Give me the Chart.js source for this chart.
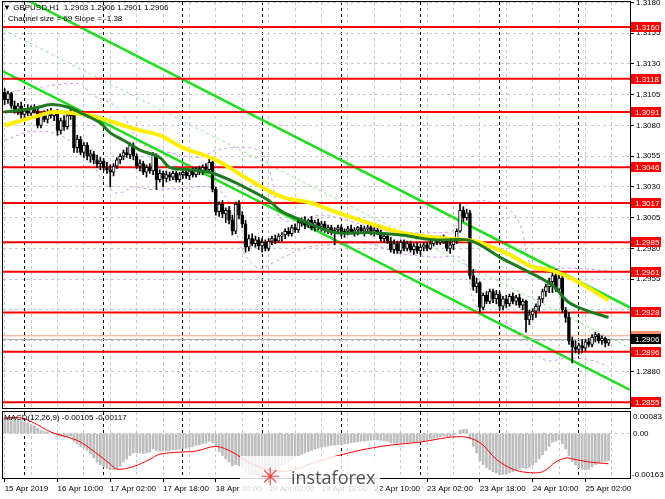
<!DOCTYPE html>
<html>
<head>
<meta charset="utf-8">
<script src="https://cdn.jsdelivr.net/npm/chart.js@4.4.1/dist/chart.umd.min.js"></script>
<style>
  body { margin: 0; background: #fff; }
  #wrap { position: relative; width: 665px; height: 499px; overflow: hidden; font-family: "Liberation Sans", Arial, sans-serif; }
  canvas { position: absolute; left: 0; }
  .txt { position: absolute; font-size: 8px; line-height: 10px; color: #000; white-space: pre; }
  #logo { position: absolute; left: 240px; top: 456px; width: 140px; height: 43px; background: rgba(255,255,255,0.82); }
  #logo .ic { position: absolute; left: 20px; top: 8px; color: #e8473c; font-family: "DejaVu Sans"; font-size: 24px; line-height: 26px; }
  #logo .tx { position: absolute; left: 51px; top: 9px; color: #505050; font-family: "Open Sans", sans-serif; font-size: 18px; line-height: 24px; }
</style>
</head>
<body>
<div id="wrap">
  <canvas id="main" width="665" height="410" style="top:0"></canvas>
  <canvas id="macd" width="665" height="99" style="top:400px"></canvas>
  <div class="txt" id="hdr1" style="left:3px;top:3px"></div>
  <div class="txt" style="left:8px;top:14px">Channel size = 69 Slope = -1.38</div>
  <div class="txt" id="hdr2" style="left:4px;top:413px"></div>
  <div id="logo"><span class="ic">&#10035;</span><span class="tx">instaforex</span></div>
</div>
<script>
// GBPUSD H1, one candle per hour, 15 Apr 18:00 .. 25 Apr 09:00
var opens = [
  1.3107,1.3101,1.3106,1.3096,1.3093,1.3096,1.3089,1.3092,1.3090,1.3094,
  1.3092,1.3080,1.3088,1.3085,1.3091,1.3088,1.3090,1.3076,1.3084,1.3079,
  1.3088,1.3092,1.3062,1.3069,1.3058,1.3064,1.3055,1.3057,1.3052,1.3049,
  1.3051,1.3046,1.3044,1.3042,1.3047,1.3052,1.3055,1.3058,1.3056,1.3064,
  1.3055,1.3047,1.3049,1.3042,1.3046,1.3043,1.3056,1.3036,1.3041,1.3037,
  1.3040,1.3038,1.3041,1.3036,1.3040,1.3042,1.3039,1.3043,1.3040,1.3045,
  1.3042,1.3046,1.3044,1.3050,1.3028,1.3010,1.3016,1.3008,1.3011,1.3003,
  1.2994,1.3016,1.3007,1.3000,1.2981,1.2988,1.2984,1.2987,1.2982,1.2985,
  1.2980,1.2986,1.2988,1.2986,1.2990,1.2991,1.2994,1.2992,1.2997,1.2995,
  1.3001,1.3002,1.2999,1.3003,1.2997,1.3001,1.2998,1.3000,1.2995,1.2997,
  1.2993,1.2995,1.2997,1.2992,1.2994,1.2996,1.2993,1.2995,1.2997,1.2994,
  1.2996,1.2997,1.2993,1.2995,1.2992,1.2988,1.2990,1.2986,1.2979,1.2984,
  1.2978,1.2985,1.2980,1.2984,1.2979,1.2982,1.2978,1.2981,1.2983,1.2980,
  1.2984,1.2987,1.2985,1.2988,1.2986,1.2980,1.2983,1.2986,1.2994,1.3011,
  1.3005,1.3009,1.2958,1.2949,1.2952,1.2932,1.2942,1.2937,1.2945,1.2939,
  1.2943,1.2933,1.2939,1.2935,1.2941,1.2937,1.2940,1.2934,1.2937,1.2922,
  1.2926,1.2929,1.2933,1.2939,1.2945,1.2949,1.2953,1.2958,1.2947,1.2956,
  1.2930,1.2924,1.2905,1.2900,1.2898,1.2901,1.2899,1.2904,1.2902,1.2908,
  1.2910,1.2905,1.2907,1.2903
];
var highs = [
  1.3110,1.3108,1.3107,1.3100,1.3098,1.3099,1.3094,1.3097,1.3096,1.3097,
  1.3094,1.3090,1.3092,1.3093,1.3094,1.3092,1.3093,1.3086,1.3088,1.3090,
  1.3094,1.3093,1.3072,1.3071,1.3066,1.3066,1.3060,1.3059,1.3056,1.3054,
  1.3053,1.3050,1.3048,1.3049,1.3054,1.3057,1.3060,1.3062,1.3066,1.3066,
  1.3057,1.3052,1.3051,1.3048,1.3049,1.3058,1.3057,1.3044,1.3043,1.3043,
  1.3042,1.3043,1.3043,1.3042,1.3044,1.3045,1.3044,1.3046,1.3046,1.3047,
  1.3048,1.3049,1.3053,1.3051,1.3030,1.3018,1.3019,1.3013,1.3014,1.3007,
  1.3018,1.3019,1.3010,1.3003,1.2991,1.2992,1.2990,1.2989,1.2988,1.2987,
  1.2988,1.2990,1.2991,1.2992,1.2993,1.2996,1.2997,1.2999,1.3000,1.3003,
  1.3005,1.3006,1.3004,1.3006,1.3003,1.3004,1.3002,1.3002,1.2999,1.2999,
  1.2997,1.2999,1.2999,1.2996,1.2998,1.2999,1.2997,1.2998,1.2999,1.2998,
  1.2999,1.2999,1.2997,1.2998,1.2995,1.2993,1.2992,1.2989,1.2987,1.2986,
  1.2987,1.2987,1.2986,1.2986,1.2984,1.2985,1.2983,1.2985,1.2985,1.2986,
  1.2989,1.2990,1.2990,1.2991,1.2989,1.2986,1.2988,1.2996,1.3017,1.3014,
  1.3012,1.3011,1.2963,1.2956,1.2953,1.2944,1.2945,1.2947,1.2947,1.2946,
  1.2945,1.2941,1.2942,1.2943,1.2944,1.2942,1.2943,1.2939,1.2938,1.2930,
  1.2931,1.2935,1.2941,1.2947,1.2951,1.2956,1.2962,1.2963,1.2959,1.2958,
  1.2932,1.2928,1.2908,1.2905,1.2903,1.2906,1.2906,1.2907,1.2910,1.2912,
  1.2911,1.2909,1.2908,1.2906
];
var lows = [
  1.3097,1.3098,1.3094,1.3090,1.3089,1.3086,1.3084,1.3088,1.3087,1.3090,
  1.3078,1.3078,1.3083,1.3082,1.3086,1.3084,1.3072,1.3073,1.3076,1.3077,
  1.3085,1.3058,1.3058,1.3056,1.3054,1.3052,1.3050,1.3049,1.3046,1.3044,
  1.3043,1.3041,1.3030,1.3039,1.3045,1.3049,1.3052,1.3054,1.3053,1.3052,
  1.3045,1.3043,1.3040,1.3038,1.3041,1.3040,1.3028,1.3034,1.3030,1.3034,
  1.3035,1.3036,1.3034,1.3034,1.3037,1.3037,1.3036,1.3038,1.3038,1.3040,
  1.3040,1.3043,1.3042,1.3026,1.3007,1.3006,1.3005,1.3001,1.3000,1.2991,
  1.2992,1.3004,1.2997,1.2977,1.2978,1.2982,1.2981,1.2979,1.2977,1.2978,
  1.2978,1.2983,1.2984,1.2985,1.2986,1.2988,1.2990,1.2990,1.2993,1.2993,
  1.2998,1.2996,1.2997,1.2995,1.2994,1.2995,1.2994,1.2993,1.2992,1.2991,
  1.2983,1.2992,1.2990,1.2989,1.2991,1.2992,1.2990,1.2991,1.2992,1.2990,
  1.2993,1.2991,1.2990,1.2991,1.2986,1.2985,1.2984,1.2977,1.2976,1.2976,
  1.2976,1.2978,1.2978,1.2977,1.2975,1.2976,1.2975,1.2978,1.2978,1.2979,
  1.2982,1.2983,1.2983,1.2984,1.2978,1.2976,1.2979,1.2984,1.2993,1.3002,
  1.3003,1.2955,1.2946,1.2944,1.2928,1.2930,1.2935,1.2935,1.2936,1.2935,
  1.2930,1.2930,1.2932,1.2933,1.2935,1.2934,1.2932,1.2930,1.2912,1.2918,
  1.2922,1.2924,1.2929,1.2936,1.2941,1.2944,1.2944,1.2945,1.2944,1.2928,
  1.2920,1.2902,1.2887,1.2895,1.2894,1.2895,1.2897,1.2900,1.2900,1.2904,
  1.2903,1.2902,1.2900,1.2901
];
var closes = [
  1.3101,1.3106,1.3096,1.3093,1.3096,1.3089,1.3092,1.3090,1.3094,1.3092,
  1.3080,1.3088,1.3085,1.3091,1.3088,1.3090,1.3076,1.3084,1.3079,1.3088,
  1.3092,1.3062,1.3069,1.3058,1.3064,1.3055,1.3057,1.3052,1.3049,1.3051,
  1.3046,1.3044,1.3042,1.3047,1.3052,1.3055,1.3058,1.3056,1.3064,1.3055,
  1.3047,1.3049,1.3042,1.3046,1.3043,1.3056,1.3036,1.3041,1.3037,1.3040,
  1.3038,1.3041,1.3036,1.3040,1.3042,1.3039,1.3043,1.3040,1.3045,1.3042,
  1.3046,1.3044,1.3050,1.3028,1.3010,1.3016,1.3008,1.3011,1.3003,1.2994,
  1.3016,1.3007,1.3000,1.2981,1.2988,1.2984,1.2987,1.2982,1.2985,1.2980,
  1.2986,1.2988,1.2986,1.2990,1.2991,1.2994,1.2992,1.2997,1.2995,1.3001,
  1.3002,1.2999,1.3003,1.2997,1.3001,1.2998,1.3000,1.2995,1.2997,1.2993,
  1.2995,1.2997,1.2992,1.2994,1.2996,1.2993,1.2995,1.2997,1.2994,1.2996,
  1.2997,1.2993,1.2995,1.2992,1.2988,1.2990,1.2986,1.2979,1.2984,1.2978,
  1.2985,1.2980,1.2984,1.2979,1.2982,1.2978,1.2981,1.2983,1.2980,1.2984,
  1.2987,1.2985,1.2988,1.2986,1.2980,1.2983,1.2986,1.2994,1.3011,1.3005,
  1.3009,1.2958,1.2949,1.2952,1.2932,1.2942,1.2937,1.2945,1.2939,1.2943,
  1.2933,1.2939,1.2935,1.2941,1.2937,1.2940,1.2934,1.2937,1.2922,1.2926,
  1.2929,1.2933,1.2939,1.2945,1.2949,1.2953,1.2958,1.2947,1.2956,1.2930,
  1.2924,1.2905,1.2900,1.2898,1.2901,1.2899,1.2904,1.2902,1.2908,1.2910,
  1.2905,1.2907,1.2903,1.2906
];

// price axis and drawn levels
var priceTicks = [1.2855, 1.2880, 1.2905, 1.2930, 1.2955, 1.2980, 1.3005, 1.3030, 1.3055, 1.3080, 1.3105, 1.3130, 1.3155, 1.3180];
var levels = [1.3160, 1.3118, 1.3091, 1.3046, 1.3017, 1.2985, 1.2961, 1.2928, 1.2896, 1.2855];
var bidPrice = 1.2906;
var askPrice = 1.2909;

// time axis (bar index)
var labelIdx = [0, 16, 32, 48, 64, 80, 96, 112, 128, 144, 160, 176];
var dateLabels = ['15 Apr 2019', '16 Apr 10:00', '17 Apr 02:00', '17 Apr 18:00', '18 Apr 10:00', '19 Apr 02:00',
                  '19 Apr 18:00', '22 Apr 10:00', '23 Apr 02:00', '23 Apr 18:00', '24 Apr 10:00', '25 Apr 02:00'];
var daySep = [6, 30, 54, 78, 102, 126, 150, 174];
var gridIdx = [0, 8, 16, 24, 32, 40, 48, 56, 64, 72, 80, 88, 96, 104, 112, 120, 128, 136, 144, 152, 160, 168, 176, 184];

// moving averages at these bars
var maSlowIdx = [0, 9, 15, 24, 29, 36, 41, 47, 54, 64, 74, 84, 93, 99, 110, 120, 130, 140, 144, 153, 160, 166, 173, 183];
var maSlow = [1.3080, 1.3087, 1.3091, 1.3089, 1.3086, 1.3080, 1.3076, 1.3072, 1.3062, 1.3052, 1.3036, 1.3022,
              1.3017, 1.3011, 1.3001, 1.2993, 1.2989, 1.2987, 1.2985, 1.2975, 1.2965, 1.2962, 1.2954, 1.2938];
var maFastIdx = [0, 9, 14, 19, 24, 29, 32, 36, 41, 47, 50, 56, 62, 68, 74, 80, 84, 90, 100, 110, 120, 130, 140, 144,
                 150, 158, 166, 171, 178, 183];
var maFast = [1.3091, 1.3094, 1.3097, 1.3095, 1.3089, 1.3082, 1.3074, 1.3068, 1.3060, 1.3054, 1.3046, 1.3044,
              1.3042, 1.3036, 1.3028, 1.3019, 1.3010, 1.3003, 1.2993, 1.2993, 1.2991, 1.2987, 1.2987, 1.2983,
              1.2973, 1.2962, 1.2950, 1.2936, 1.2928, 1.2924];

// regression channel end points
var channelIdx = [-0.5, 189.5];
var channelTop = [1.3192, 1.2932];
var channelMid = [1.3158, 1.2899];
var channelBottom = [1.3124, 1.2865];

// envelope bands
var bandUpIdx = [0, 8, 23, 26, 34, 38, 41, 47, 59, 64, 73, 78, 81, 83, 86, 96, 105, 114, 123, 132, 136, 139,
                 144, 150, 154, 157, 159, 164, 171, 183];
var bandUp = [1.3106, 1.3110, 1.3114, 1.3106, 1.3095, 1.3079, 1.3066, 1.3060, 1.3054, 1.3060, 1.3062, 1.3058,
              1.3036, 1.3007, 1.3002, 1.3007, 1.3002, 1.2995, 1.2993, 1.2993, 1.2995, 1.3013, 1.3019, 1.3015,
              1.3009, 1.2993, 1.2969, 1.2964, 1.2964, 1.2962];
var bandLowIdx = [0, 8, 17, 26, 29, 34, 39, 44, 54, 62, 67, 72, 77, 81, 86, 92, 99, 110, 120, 130, 139, 142,
                  147, 153, 158, 164, 171, 178, 183];
var bandLow = [1.3068, 1.3075, 1.3072, 1.3052, 1.3038, 1.3025, 1.3030, 1.3028, 1.3029, 1.3030, 1.3022, 1.2979,
               1.2964, 1.2968, 1.2975, 1.2981, 1.2983, 1.2984, 1.2976, 1.2973, 1.2971, 1.2938, 1.2922, 1.2918,
               1.2902, 1.2889, 1.2891, 1.2889, 1.2884];

// MACD(12,26,9)
var macdMain = [
  0.00060,0.00062,0.00060,0.00055,0.00052,0.00050,0.00046,0.00040,0.00034,0.00030,
  0.00020,0.00012,0.00008,0.00005,0.00002,-0.00002,-0.00010,-0.00012,-0.00015,-0.00012,
  -0.00010,-0.00030,-0.00040,-0.00050,-0.00055,-0.00065,-0.00080,-0.00095,-0.00110,-0.00120,
  -0.00130,-0.00135,-0.00140,-0.00140,-0.00135,-0.00125,-0.00110,-0.00100,-0.00085,-0.00075,
  -0.00075,-0.00075,-0.00078,-0.00075,-0.00072,-0.00060,-0.00065,-0.00068,-0.00068,-0.00066,
  -0.00065,-0.00063,-0.00062,-0.00060,-0.00058,-0.00057,-0.00053,-0.00050,-0.00046,-0.00043,
  -0.00040,-0.00037,-0.00030,-0.00035,-0.00050,-0.00070,-0.00085,-0.00098,-0.00110,-0.00125,
  -0.00120,-0.00125,-0.00135,-0.00150,-0.00158,-0.00160,-0.00160,-0.00160,-0.00158,-0.00155,
  -0.00150,-0.00145,-0.00140,-0.00132,-0.00125,-0.00118,-0.00110,-0.00102,-0.00095,-0.00088,
  -0.00080,-0.00075,-0.00070,-0.00066,-0.00060,-0.00057,-0.00053,-0.00050,-0.00048,-0.00046,
  -0.00045,-0.00043,-0.00042,-0.00040,-0.00038,-0.00036,-0.00034,-0.00032,-0.00030,-0.00029,
  -0.00027,-0.00026,-0.00025,-0.00025,-0.00027,-0.00028,-0.00030,-0.00035,-0.00036,-0.00037,
  -0.00036,-0.00035,-0.00034,-0.00033,-0.00032,-0.00031,-0.00029,-0.00027,-0.00025,-0.00022,
  -0.00018,-0.00015,-0.00012,-0.00010,-0.00012,-0.00012,-0.00008,-0.00002,0.00012,0.00015,
  0.00016,-0.00020,-0.00050,-0.00075,-0.00105,-0.00120,-0.00132,-0.00140,-0.00148,-0.00152,
  -0.00158,-0.00158,-0.00156,-0.00152,-0.00148,-0.00142,-0.00138,-0.00132,-0.00135,-0.00130,
  -0.00122,-0.00112,-0.00098,-0.00082,-0.00066,-0.00050,-0.00034,-0.00030,-0.00025,-0.00040,
  -0.00060,-0.00085,-0.00108,-0.00122,-0.00132,-0.00138,-0.00140,-0.00138,-0.00130,-0.00120,
  -0.00115,-0.00110,-0.00108,-0.00105
];
var macdSigIdx = [0, 5, 9, 14, 19, 23, 29, 32, 34, 39, 44, 47, 53, 58, 64, 69, 74, 80, 86, 92, 102, 114, 126,
                  138, 144, 149, 154, 158, 163, 167, 170, 172, 177, 183];
var macdSig = [0.00060, 0.00060, 0.00040, 0.00006, -0.00014, -0.00033, -0.00088, -0.00118, -0.00138, -0.00128,
               -0.00100, -0.00080, -0.00072, -0.00068, -0.00050, -0.00072, -0.00112, -0.00140, -0.00145, -0.00120,
               -0.00082, -0.00050, -0.00033, -0.00012, -0.00035, -0.00100, -0.00138, -0.00150, -0.00148, -0.00110,
               -0.00095, -0.00098, -0.00110, -0.00117];
var macdTicks = [0.00083, 0, -0.00163];

var X_MIN = -0.5, X_MAX = 189.5;
var last = closes.length - 1;
var FONT = '8px "Liberation Sans", Arial, sans-serif';

function pts(xs, ys) {
  return xs.map(function (x, k) { return {x: x, y: ys[k]}; });
}
function line(data, color, width, order, dash, smooth) {
  return {type: 'line', data: data, borderColor: color, borderWidth: width, pointRadius: 0,
          fill: false, order: order, borderDash: dash || [], tension: smooth ? 0.35 : 0};
}

var wicks = closes.map(function (c, i) { return {x: i, y: [lows[i], highs[i]]}; });
var bodies = closes.map(function (c, i) { return {x: i, y: [opens[i], c]}; });
var bodyFill = closes.map(function (c, i) { return c >= opens[i] ? '#ffffff' : '#000000'; });

var datasets = [
  line(pts(maFastIdx, maFast), '#1f7a1f', 3, 1, null, true),
  line(pts(maSlowIdx, maSlow), '#ffee00', 4, 1.5, null, true),
  {type: 'bar', data: bodies, backgroundColor: bodyFill, borderColor: '#000', borderWidth: 1,
   borderSkipped: false, barThickness: 3, minBarLength: 1, grouped: false, order: 2},
  {type: 'bar', data: wicks, backgroundColor: '#000', borderWidth: 0, barThickness: 1, grouped: false, order: 3},
  line(pts(channelIdx, [askPrice, askPrice]), '#ff9a80', 1, 4),
  line(pts(channelIdx, [bidPrice, bidPrice]), '#b0b0b0', 1, 4)
];
levels.forEach(function (v) {
  datasets.push(line(pts(channelIdx, [v, v]), '#ff0000', 2, 5));
});
datasets.push(line(pts(channelIdx, channelTop), '#22dd22', 2.5, 6));
datasets.push(line(pts(channelIdx, channelBottom), '#22dd22', 2.5, 6));
datasets.push(line(pts(channelIdx, channelMid), '#88ee88', 1, 6, [3, 3]));
datasets.push(line(pts(bandUpIdx, bandUp), '#cc99ee', 1, 7, [3, 3], true));
datasets.push(line(pts(bandLowIdx, bandLow), '#cc99ee', 1, 7, [3, 3], true));

var frame = {
  id: 'frame',
  afterDraw: function (c) {
    var a = c.chartArea, ctx = c.ctx;
    ctx.save();
    ctx.strokeStyle = '#000';
    ctx.lineWidth = 1;
    ctx.strokeRect(a.left - 0.5, a.top - 0.5, a.right - a.left + 1, a.bottom - a.top + 1);
    ctx.restore();
  }
};

var priceBoxes = {
  id: 'priceBoxes',
  afterDraw: function (c) {
    var y = c.scales.y, ctx = c.ctx, x0 = c.chartArea.right + 1;
    ctx.save();
    ctx.font = FONT;
    ctx.textBaseline = 'middle';
    function box(v, bg) {
      var py = Math.round(y.getPixelForValue(v));
      ctx.fillStyle = bg;
      ctx.fillRect(x0, py - 5, 30, 10);
      ctx.fillStyle = '#fff';
      ctx.fillText(v.toFixed(4), x0 + 4, py + 0.5);
    }
    levels.forEach(function (v) { box(v, '#ff0000'); });
    box(askPrice, '#ff8c6a');
    box(bidPrice, '#000000');
    ctx.restore();
  }
};

function xAxis(showLabels) {
  return {
    type: 'linear', min: X_MIN, max: X_MAX, offset: false,
    afterBuildTicks: function (s) {
      var all = gridIdx.concat(daySep).sort(function (a, b) { return a - b; });
      s.ticks = all.map(function (v) { return {value: v}; });
    },
    afterFit: function (s) {
      s.height = showLabels ? 21 : 0;
      s.paddingLeft = 0;
      s.paddingRight = 0;
    },
    ticks: {
      display: showLabels, autoSkip: false, maxRotation: 0, align: 'start', padding: 2,
      color: '#000', font: {family: 'Liberation Sans', size: 8},
      callback: function (v) { var k = labelIdx.indexOf(v); return k < 0 ? '' : dateLabels[k]; }
    },
    grid: {
      offset: false, lineWidth: 1, drawTicks: showLabels, tickLength: 4,
      color: function (ctx) { return ctx.tick && daySep.indexOf(ctx.tick.value) >= 0 ? '#000' : '#c8c8c8'; },
      tickColor: function (ctx) { return ctx.tick && labelIdx.indexOf(ctx.tick.value) >= 0 ? '#000' : 'rgba(0,0,0,0)'; }
    },
    border: {display: false, dash: [3, 3]}
  };
}

new Chart(document.getElementById('main'), {
  type: 'bar',
  data: {datasets: datasets},
  options: {
    responsive: false, animation: false, events: [],
    layout: {padding: {left: 3, top: 2, bottom: 2, right: 0}},
    plugins: {legend: {display: false}, tooltip: {enabled: false}},
    scales: {
      x: xAxis(false),
      y: {
        type: 'linear', position: 'right', min: 1.28503, max: 1.31804,
        afterBuildTicks: function (s) { s.ticks = priceTicks.map(function (v) { return {value: v}; }); },
        afterFit: function (s) { s.width = 35; s.paddingTop = 0; s.paddingBottom = 0; },
        ticks: {autoSkip: false, padding: 2, color: '#000', font: {family: 'Liberation Sans', size: 8},
                callback: function (v) { return v.toFixed(4); }},
        grid: {color: '#c8c8c8', tickColor: '#000', tickLength: 4, tickBorderDash: []},
        border: {display: false, dash: [3, 3]}
      }
    }
  },
  plugins: [frame, priceBoxes]
});

var macdLabels = {
  id: 'macdLabels',
  afterDraw: function (c) {
    var y = c.scales.y, ctx = c.ctx, x0 = c.chartArea.right + 3;
    ctx.save();
    ctx.font = FONT;
    ctx.fillStyle = '#000';
    ctx.textBaseline = 'middle';
    macdTicks.forEach(function (v, k) {
      var py = y.getPixelForValue(v);
      if (k === 0) py += 5;
      if (k === macdTicks.length - 1) py -= 1;
      ctx.fillText(v === 0 ? '0.00' : v.toFixed(5), v < 0 ? x0 - 1 : x0, py);
    });
    ctx.restore();
  }
};

new Chart(document.getElementById('macd'), {
  type: 'bar',
  data: {
    datasets: [
      {type: 'line', data: pts(macdSigIdx, macdSig), borderColor: '#ff0000', borderWidth: 1, pointRadius: 0,
       tension: 0.35, fill: false, order: 1},
      {type: 'bar', data: macdMain.map(function (v, i) { return {x: i, y: v}; }), backgroundColor: '#bdbdbd',
       borderWidth: 0, barThickness: 2, grouped: false, order: 2}
    ]
  },
  options: {
    responsive: false, animation: false, events: [],
    layout: {padding: {left: 3, top: 12, bottom: 0, right: 0}},
    plugins: {legend: {display: false}, tooltip: {enabled: false}},
    scales: {
      x: xAxis(true),
      y: {
        type: 'linear', position: 'right', min: -0.00172, max: 0.00083,
        afterBuildTicks: function (s) { s.ticks = macdTicks.map(function (v) { return {value: v}; }); },
        afterFit: function (s) { s.width = 35; s.paddingTop = 0; s.paddingBottom = 0; },
        ticks: {display: false},
        grid: {drawTicks: false, color: function (ctx) { return ctx.tick && ctx.tick.value === 0 ? '#c8c8c8' : 'rgba(0,0,0,0)'; }},
        border: {display: false, dash: [3, 3]}
      }
    }
  },
  plugins: [frame, macdLabels]
});

document.getElementById('hdr1').textContent = '\u25BC GBPUSD,H1  ' + opens[last].toFixed(4) + ' ' + highs[last].toFixed(4) +
  ' ' + lows[last].toFixed(4) + ' ' + closes[last].toFixed(4);
document.getElementById('hdr2').textContent = 'MACD(12,26,9) ' + macdMain[last].toFixed(5) + ' ' + macdSig[macdSig.length - 1].toFixed(5);
</script>
</body>
</html>
